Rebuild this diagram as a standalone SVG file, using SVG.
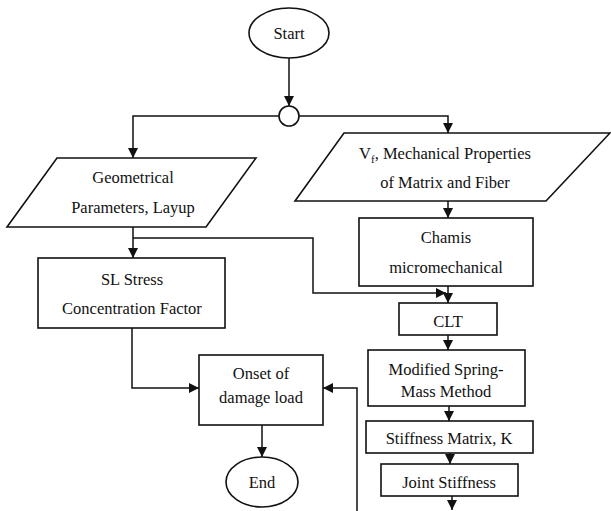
<svg xmlns="http://www.w3.org/2000/svg" width="611" height="511" viewBox="0 0 611 511">
<style>
.s{fill:#fff;stroke:#111;stroke-width:1.6}
.c{fill:none;stroke:#111;stroke-width:1.5}
text{font-family:'Liberation Serif','Times New Roman','DejaVu Serif',serif;font-size:16.5px;fill:#111;text-anchor:middle}
</style>
<defs>
<marker id="a" markerUnits="userSpaceOnUse" markerWidth="12" markerHeight="12" refX="10" refY="5" orient="auto">
<path d="M0,0 L10,5 L0,10 Z" fill="#111"/>
</marker>
</defs>
<rect width="611" height="511" fill="#fff"/>
<g id="connectors">
<path class="c" d="M289,58 V106" marker-end="url(#a)"/>
<path class="c" d="M279,116 H133 V158" marker-end="url(#a)"/>
<path class="c" d="M299,116 H448 V133" marker-end="url(#a)"/>
<path class="c" d="M133,227 V258" marker-end="url(#a)"/>
<path class="c" d="M133,238 H313 V293 H446" marker-end="url(#a)"/>
<path class="c" d="M448,201 V218" marker-end="url(#a)"/>
<path class="c" d="M448,286 V303" marker-end="url(#a)"/>
<path class="c" d="M448,335 V350" marker-end="url(#a)"/>
<path class="c" d="M449,406 V421" marker-end="url(#a)"/>
<path class="c" d="M450,453 V464" marker-end="url(#a)"/>
<path class="c" d="M452,496 V510" marker-end="url(#a)"/>
<path class="c" d="M132,328 V388 H199" marker-end="url(#a)"/>
<path class="c" d="M357,511 V388 H323" marker-end="url(#a)"/>
<path class="c" d="M262,425 V457" marker-end="url(#a)"/>
</g>
<g id="start">
<ellipse class="s" cx="289" cy="33" rx="40" ry="25"/>
<text x="289" y="38.5" font-family="Liberation Serif">Start</text>
</g>
<g id="junction">
<circle class="s" cx="289" cy="116" r="10"/>
</g>
<g id="geometrical">
<polygon class="s" points="57,158 256,158 206,227 7,227"/>
<text x="133" y="182.5">Geometrical</text>
<text x="133" y="212.5">Parameters, Layup</text>
</g>
<g id="properties">
<polygon class="s" points="344,133 610,133 546,201 295,201"/>
<text x="445" y="158.5">V<tspan font-size="11" dy="4">f</tspan><tspan dy="-4">, Mechanical Properties</tspan></text>
<text x="445" y="187.5">of Matrix and Fiber</text>
</g>
<g id="sl">
<rect class="s" x="38" y="258" width="187" height="70"/>
<text x="132" y="284.5">SL Stress</text>
<text x="132" y="313.5">Concentration Factor</text>
</g>
<g id="chamis">
<rect class="s" x="359" y="218" width="174" height="68"/>
<text x="446" y="242.5">Chamis</text>
<text x="446" y="272.5">micromechanical</text>
</g>
<g id="clt">
<rect class="s" x="399" y="303" width="98" height="32"/>
<text x="448" y="326.5">CLT</text>
</g>
<g id="modified">
<rect class="s" x="368" y="350" width="157" height="56"/>
<text x="446" y="374.5">Modified Spring-</text>
<text x="446" y="396.5">Mass Method</text>
</g>
<g id="stiffness">
<rect class="s" x="366" y="421" width="167" height="32"/>
<text x="449" y="443.5">Stiffness Matrix, K</text>
</g>
<g id="joint">
<rect class="s" x="381" y="464" width="137" height="32"/>
<text x="449" y="487.5">Joint Stiffness</text>
</g>
<g id="onset">
<rect class="s" x="199" y="355" width="124" height="70"/>
<text x="261" y="378.5">Onset of</text>
<text x="261" y="402.5">damage load</text>
</g>
<g id="end">
<ellipse class="s" cx="262" cy="482" rx="36" ry="25"/>
<text x="262" y="487.5">End</text>
</g>
</svg>
